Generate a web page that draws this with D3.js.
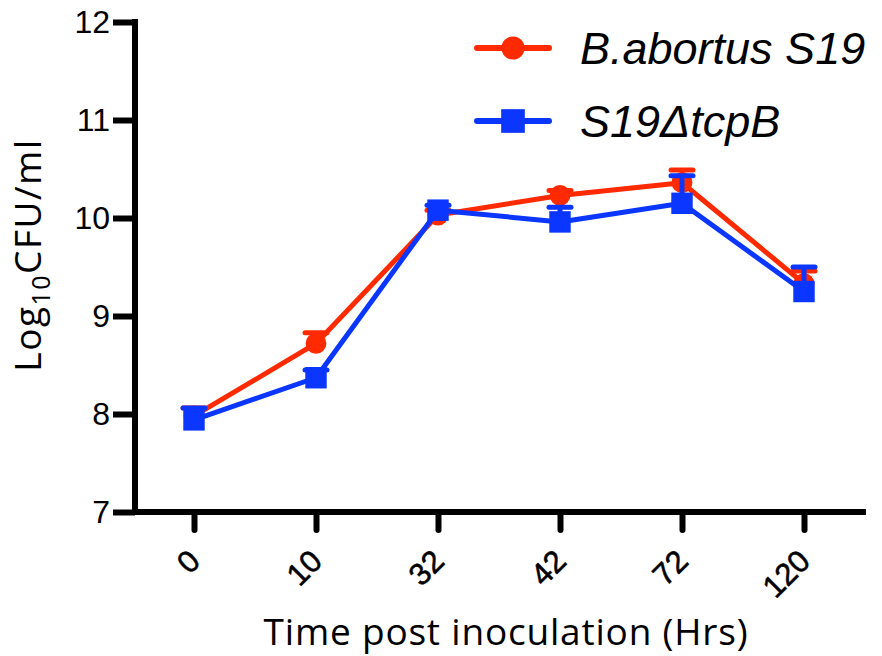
<!DOCTYPE html>
<html lang="en">
<head>
<meta charset="utf-8">
<title>Log10 CFU/ml over time</title>
<script src="https://cdn.jsdelivr.net/npm/d3@7"></script>
<style>
  body { margin: 0; background: #fff; }
  text { font-family: "Liberation Sans", Arial, sans-serif; }
  text.title { font-family: "Open Sans", sans-serif; }
</style>
</head>
<body>
<script>
// time points (hrs) on the x axis
var hours = ["0", "10", "32", "42", "72", "120"];

// mean log10 CFU/ml per strain
var wildType = [7.98, 8.72, 10.03, 10.23, 10.36, 9.33];
var mutant = [7.94, 8.37, 10.08, 9.96, 10.15, 9.25];

// upper error (SD) per strain
var wildErr = [0.08, 0.11, 0.05, 0.05, 0.13, 0.13];
var mutErr = [0.12, 0.08, 0.05, 0.15, 0.28, 0.25];

var yTicks = [7, 8, 9, 10, 11, 12];

var w = 882, h = 656;
var red = "#ff2a00", blue = "#0a36ff";

var svg = d3.select("body").append("svg")
  .attr("width", w)
  .attr("height", h);

// scales
var x = d3.scalePoint()
  .domain(hours)
  .range([194, 804]);

var y = d3.scaleLinear()
  .domain([7, 12])
  .range([512, 22]);

// y axis
var yAxis = svg.append("g")
  .attr("transform", "translate(135,0)")
  .call(d3.axisLeft(y).tickValues(yTicks).tickSize(22).tickPadding(3).tickFormat(d3.format("d")));
yAxis.select(".domain").remove();
yAxis.selectAll(".tick line").attr("stroke", "#000").attr("stroke-width", 6);
yAxis.selectAll(".tick text").attr("font-size", 32).attr("fill", "#000");
svg.append("line")
  .attr("x1", 135).attr("x2", 135)
  .attr("y1", 19).attr("y2", 515)
  .attr("stroke", "#000").attr("stroke-width", 6);

// x axis
var xAxis = svg.append("g")
  .attr("transform", "translate(0,512)")
  .call(d3.axisBottom(x).tickSize(18).tickFormat(""));
xAxis.select(".domain").remove();
xAxis.selectAll(".tick line").attr("stroke", "#000").attr("stroke-width", 6)
  .attr("stroke-linecap", "round");
svg.append("line")
  .attr("x1", 132).attr("x2", 866)
  .attr("y1", 512).attr("y2", 512)
  .attr("stroke", "#000").attr("stroke-width", 6);

// rotated time labels
svg.selectAll(".xlab")
  .data(hours)
  .enter()
  .append("text")
  .attr("class", "xlab")
  .attr("transform", function(d) {
    return "translate(" + (x(d) + 8) + ",563) rotate(-45)";
  })
  .attr("text-anchor", "end")
  .attr("font-size", 31)
  .attr("stroke", "#000")
  .attr("stroke-width", 0.6)
  .text(function(d) { return d; });

// axis titles
svg.append("text")
  .attr("class", "title")
  .attr("x", 506)
  .attr("y", 645)
  .attr("text-anchor", "middle")
  .attr("font-size", 37)
  .attr("letter-spacing", 0.8)
  .text("Time post inoculation (Hrs)");

var yTitle = svg.append("text")
  .attr("class", "title")
  .attr("transform", "translate(41,255) rotate(-90)")
  .attr("text-anchor", "middle")
  .attr("font-size", 37)
  .attr("letter-spacing", 1.5);
yTitle.append("tspan").text("Log");
yTitle.append("tspan").attr("font-size", 25).attr("dy", 9).text("10");
yTitle.append("tspan").attr("dy", -9).text("CFU/ml");

// draw one series: line, error bars, markers
function drawSeries(values, errs, color, shape) {
  var g = svg.append("g");
  var line = d3.line()
    .x(function(d, i) { return x(hours[i]); })
    .y(function(d) { return y(d); });

  g.append("path")
    .datum(values)
    .attr("d", line)
    .attr("fill", "none")
    .attr("stroke", color)
    .attr("stroke-width", 5)
    .attr("stroke-linejoin", "round");

  values.forEach(function(v, i) {
    var cx = x(hours[i]);
    g.append("line")
      .attr("x1", cx).attr("x2", cx)
      .attr("y1", y(v)).attr("y2", y(v + errs[i]))
      .attr("stroke", color).attr("stroke-width", 5);
    g.append("line")
      .attr("x1", cx - 11).attr("x2", cx + 11)
      .attr("y1", y(v + errs[i])).attr("y2", y(v + errs[i]))
      .attr("stroke", color).attr("stroke-width", 5)
      .attr("stroke-linecap", "round");
  });

  g.selectAll(".mark")
    .data(values)
    .enter()
    .append("path")
    .attr("transform", function(d, i) {
      return "translate(" + x(hours[i]) + "," + y(d) + ")";
    })
    .attr("d", shape)
    .attr("fill", color);
}

var circle = d3.symbol().type(d3.symbolCircle).size(340)();
var square = d3.symbol().type(d3.symbolSquare).size(460)();

drawSeries(wildType, wildErr, red, circle);
drawSeries(mutant, mutErr, blue, square);

// legend
var legend = [
  { name: "B.abortus S19", color: red, shape: d3.symbol().type(d3.symbolCircle).size(420)(), y: 48 },
  { name: "S19\u0394tcpB", color: blue, shape: d3.symbol().type(d3.symbolSquare).size(560)(), y: 121 }
];
legend.forEach(function(l) {
  svg.append("line")
    .attr("x1", 477).attr("x2", 549)
    .attr("y1", l.y).attr("y2", l.y)
    .attr("stroke", l.color).attr("stroke-width", 6)
    .attr("stroke-linecap", "round");
  svg.append("path")
    .attr("transform", "translate(513," + l.y + ")")
    .attr("d", l.shape)
    .attr("fill", l.color);
  svg.append("text")
    .attr("x", 580)
    .attr("y", l.y + 16)
    .attr("font-size", 45)
    .attr("font-style", "italic")
    .text(l.name);
});
</script>
</body>
</html>
